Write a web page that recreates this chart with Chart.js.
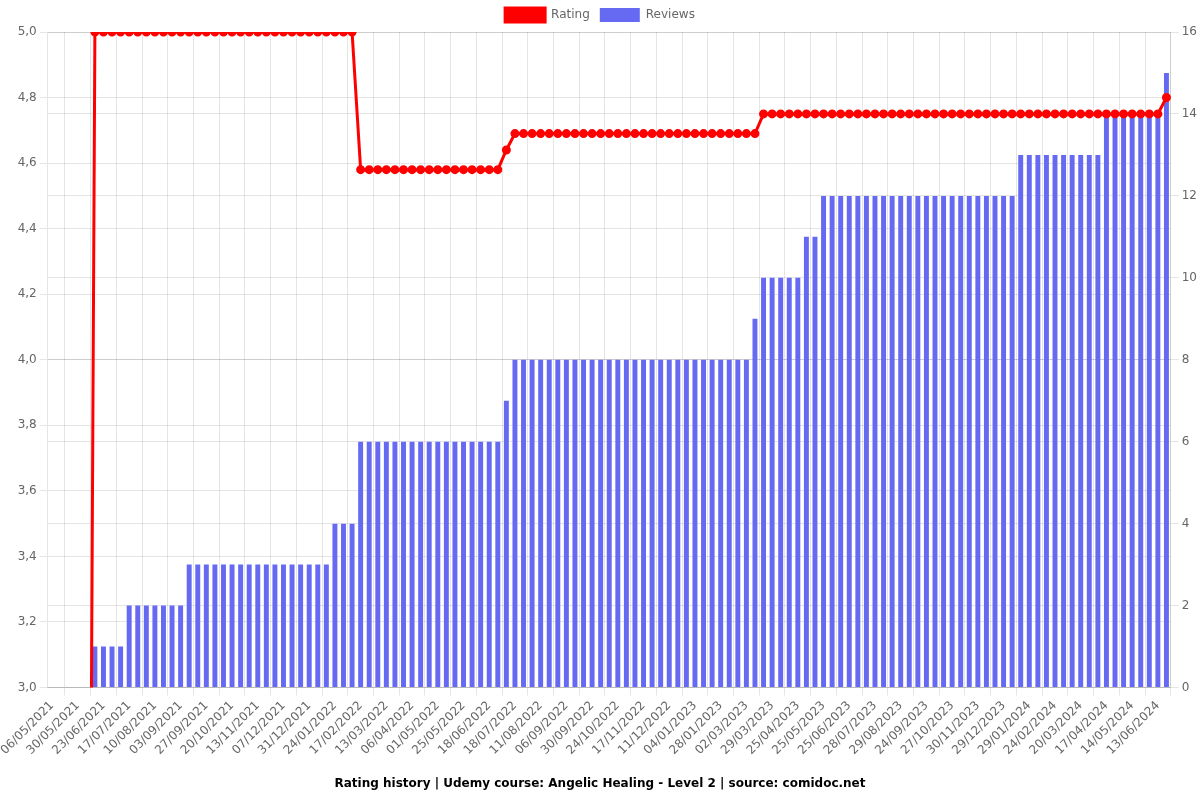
<!DOCTYPE html>
<html>
<head>
<meta charset="utf-8">
<script src="https://cdn.jsdelivr.net/npm/chart.js@4.4.1/dist/chart.umd.min.js"></script>
<style>
  html, body { margin: 0; padding: 0; background: #fff; }
  #wrap { width: 1200px; height: 800px; }
</style>
</head>
<body>
<div id="wrap"><canvas id="chart"></canvas></div>
<script>
// dates of the snapshots (x axis)
var labels = [
    "06/05/2021", "14/05/2021", "22/05/2021", "30/05/2021", "07/06/2021", "15/06/2021",
    "23/06/2021", "01/07/2021", "09/07/2021", "17/07/2021", "25/07/2021", "02/08/2021",
    "10/08/2021", "18/08/2021", "26/08/2021", "03/09/2021", "11/09/2021", "19/09/2021",
    "27/09/2021", "05/10/2021", "13/10/2021", "20/10/2021", "28/10/2021", "05/11/2021",
    "13/11/2021", "21/11/2021", "29/11/2021", "07/12/2021", "15/12/2021", "23/12/2021",
    "31/12/2021", "08/01/2022", "16/01/2022", "24/01/2022", "01/02/2022", "09/02/2022",
    "17/02/2022", "25/02/2022", "05/03/2022", "13/03/2022", "21/03/2022", "29/03/2022",
    "06/04/2022", "14/04/2022", "23/04/2022", "01/05/2022", "09/05/2022", "17/05/2022",
    "25/05/2022", "02/06/2022", "10/06/2022", "18/06/2022", "28/06/2022", "08/07/2022",
    "18/07/2022", "26/07/2022", "03/08/2022", "11/08/2022", "20/08/2022", "29/08/2022",
    "06/09/2022", "14/09/2022", "22/09/2022", "30/09/2022", "08/10/2022", "16/10/2022",
    "24/10/2022", "01/11/2022", "09/11/2022", "17/11/2022", "25/11/2022", "03/12/2022",
    "11/12/2022", "19/12/2022", "27/12/2022", "04/01/2023", "12/01/2023", "20/01/2023",
    "28/01/2023", "09/02/2023", "20/02/2023", "02/03/2023", "11/03/2023", "20/03/2023",
    "29/03/2023", "07/04/2023", "16/04/2023", "25/04/2023", "05/05/2023", "15/05/2023",
    "25/05/2023", "04/06/2023", "14/06/2023", "25/06/2023", "06/07/2023", "17/07/2023",
    "28/07/2023", "08/08/2023", "18/08/2023", "29/08/2023", "07/09/2023", "15/09/2023",
    "24/09/2023", "05/10/2023", "16/10/2023", "27/10/2023", "07/11/2023", "18/11/2023",
    "30/11/2023", "09/12/2023", "19/12/2023", "29/12/2023", "08/01/2024", "18/01/2024",
    "29/01/2024", "07/02/2024", "15/02/2024", "24/02/2024", "03/03/2024", "11/03/2024",
    "20/03/2024", "29/03/2024", "07/04/2024", "17/04/2024", "26/04/2024", "05/05/2024",
    "14/05/2024", "24/05/2024", "03/06/2024", "13/06/2024", "23/06/2024"
];

// average rating at each date
var rating = [
    0, 0, 0, 0, 0,
    5, 5, 5, 5, 5, 5, 5, 5, 5, 5, 5, 5, 5, 5, 5, 5,
    5, 5, 5, 5, 5, 5, 5, 5, 5, 5, 5, 5, 5, 5, 5,
    4.58, 4.58, 4.58, 4.58, 4.58, 4.58, 4.58, 4.58, 4.58,
    4.58, 4.58, 4.58, 4.58, 4.58, 4.58, 4.58, 4.58,
    4.64,
    4.69, 4.69, 4.69, 4.69, 4.69, 4.69, 4.69, 4.69, 4.69, 4.69,
    4.69, 4.69, 4.69, 4.69, 4.69, 4.69, 4.69, 4.69, 4.69, 4.69,
    4.69, 4.69, 4.69, 4.69, 4.69, 4.69, 4.69, 4.69, 4.69,
    4.75, 4.75, 4.75, 4.75, 4.75, 4.75, 4.75, 4.75, 4.75, 4.75,
    4.75, 4.75, 4.75, 4.75, 4.75, 4.75, 4.75, 4.75, 4.75, 4.75,
    4.75, 4.75, 4.75, 4.75, 4.75, 4.75, 4.75, 4.75, 4.75, 4.75,
    4.75, 4.75, 4.75, 4.75, 4.75, 4.75, 4.75, 4.75, 4.75, 4.75,
    4.75, 4.75, 4.75, 4.75, 4.75, 4.75, 4.75,
    4.8
];

// number of reviews at each date
var reviews = [
    0, 0, 0, 0, 0,
    1, 1, 1, 1,
    2, 2, 2, 2, 2, 2, 2,
    3, 3, 3, 3, 3, 3, 3, 3, 3, 3, 3, 3, 3, 3, 3, 3, 3,
    4, 4, 4,
    6, 6, 6, 6, 6, 6, 6, 6, 6, 6, 6, 6, 6, 6, 6, 6, 6,
    7,
    8, 8, 8, 8, 8, 8, 8, 8, 8, 8, 8, 8, 8, 8,
    8, 8, 8, 8, 8, 8, 8, 8, 8, 8, 8, 8, 8, 8,
    9,
    10, 10, 10, 10, 10,
    11, 11,
    12, 12, 12, 12, 12, 12, 12, 12, 12, 12, 12, 12,
    12, 12, 12, 12, 12, 12, 12, 12, 12, 12, 12,
    13, 13, 13, 13, 13, 13, 13, 13, 13, 13,
    14, 14, 14, 14, 14, 14, 14,
    15
];

var ratingTicks = { min: 3, max: 5, step: 0.2 };
var reviewTicks = { min: 0, max: 16, step: 2 };

Chart.defaults.font.family = "'DejaVu Sans', sans-serif";
Chart.defaults.font.size = 12;
Chart.defaults.color = '#666';

var ctx = document.getElementById('chart').getContext('2d');
var chart = new Chart(ctx, {
    type: 'bar',
    data: {
        labels: labels,
        datasets: [{
            type: 'line',
            label: 'Rating',
            data: rating,
            yAxisID: 'y',
            borderColor: 'rgb(255, 0, 0)',
            backgroundColor: 'rgb(255, 0, 0)',
            borderWidth: 3,
            pointRadius: 3,
            pointBackgroundColor: 'rgb(255, 0, 0)',
            pointBorderColor: 'rgb(255, 0, 0)',
            tension: 0,
            fill: false
        }, {
            type: 'bar',
            label: 'Reviews',
            data: reviews,
            yAxisID: 'y1',
            backgroundColor: 'rgb(102, 106, 242)',
            borderWidth: 0,
            categoryPercentage: 0.8,
            barPercentage: 0.72
        }]
    },
    options: {
        responsive: true,
        maintainAspectRatio: false,
        animation: false,
        layout: { padding: { top: -2 } },
        plugins: {
            legend: {
                position: 'top',
                labels: { boxWidth: 40, boxHeight: 14 }
            },
            title: {
                display: true,
                position: 'bottom',
                text: 'Rating history | Udemy course: Angelic Healing - Level 2 | source: comidoc.net',
                color: '#000',
                font: { size: 12, weight: 'bold' },
                padding: { top: 16, bottom: 9 }
            },
            tooltip: { enabled: false }
        },
        scales: {
            x: {
                ticks: { minRotation: 45, maxRotation: 45, autoSkip: true },
                grid: { color: 'rgba(0,0,0,0.1)' }
            },
            y: {
                position: 'left',
                min: ratingTicks.min,
                max: ratingTicks.max,
                ticks: {
                    stepSize: ratingTicks.step,
                    callback: function(v) { return v.toFixed(1).replace('.', ','); }
                },
                grid: { color: 'rgba(0,0,0,0.1)' }
            },
            y1: {
                position: 'right',
                min: reviewTicks.min,
                max: reviewTicks.max,
                ticks: { stepSize: reviewTicks.step },
                grid: { color: 'rgba(0,0,0,0.1)' }
            }
        }
    }
});
</script>
</body>
</html>
